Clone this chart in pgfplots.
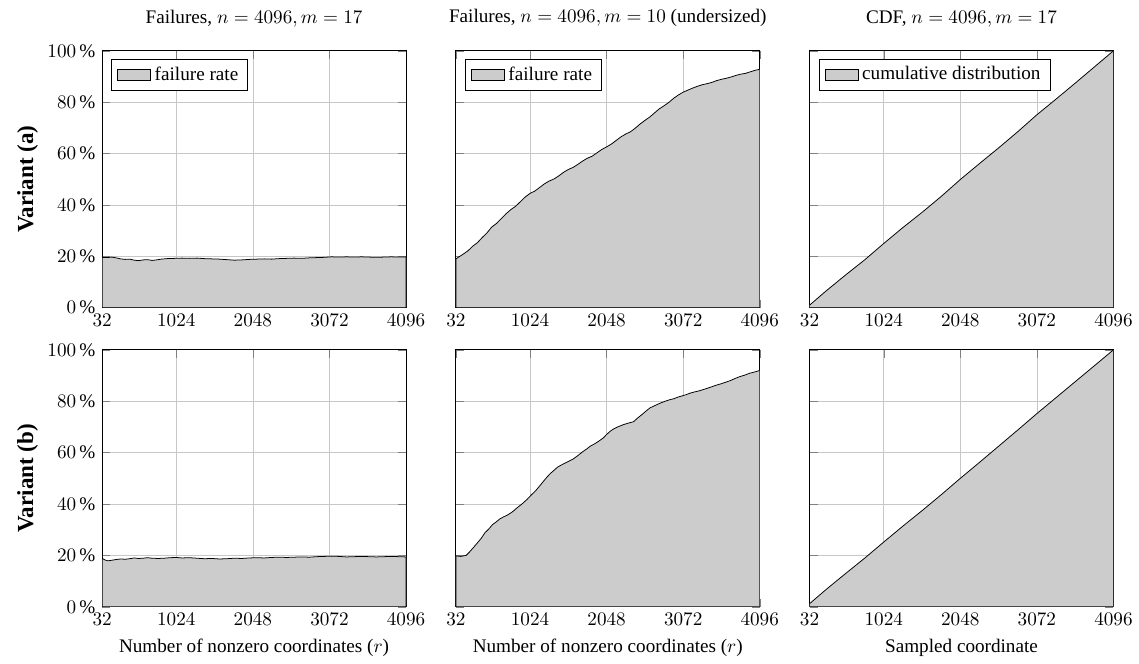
\documentclass[border=0pt]{standalone}
\usepackage{fontspec}
\setmainfont{Liberation Serif}
\usepackage{pgfplots}
\pgfplotsset{compat=1.18}
\usepgfplotslibrary{groupplots}

\pgfplotstableread{
r y
32 19.6
100 19.5
160 19.7
220 19.4
280 19.0
340 18.8
400 18.9
460 18.5
520 18.3
580 18.6
640 18.7
700 18.4
760 18.6
820 18.9
900 19.1
1000 19.2
1100 19.3
1200 19.2
1300 19.3
1400 19.1
1500 19.0
1600 18.9
1700 18.7
1800 18.5
1900 18.6
2000 18.8
2100 18.9
2200 19.0
2300 18.9
2400 19.1
2500 19.2
2600 19.3
2700 19.2
2800 19.4
2900 19.5
3000 19.6
3100 19.8
3200 19.7
3300 19.8
3400 19.7
3500 19.8
3600 19.7
3700 19.6
3800 19.7
3900 19.8
4000 19.7
4096 19.7
}\dataAone

\pgfplotstableread{
r y
32 19.0
80 19.9
128 20.8
192 22.1
256 23.9
320 25.3
384 27.3
448 29.1
512 31.4
576 32.8
640 34.7
704 36.6
768 38.2
832 39.5
896 41.3
960 43.1
1024 44.5
1088 45.4
1152 46.8
1216 48.2
1280 49.3
1344 50.1
1408 51.3
1472 52.7
1536 53.8
1600 54.6
1664 55.8
1728 57.1
1792 58.2
1856 59.0
1920 60.3
1984 61.6
2048 62.6
2112 63.7
2176 65.1
2240 66.5
2304 67.6
2368 68.5
2432 69.9
2496 71.5
2560 72.9
2624 74.2
2688 75.8
2752 77.4
2816 78.6
2880 79.9
2944 81.5
3008 82.8
3072 83.9
3136 84.7
3200 85.5
3264 86.2
3328 86.8
3392 87.2
3456 87.7
3520 88.4
3584 88.9
3648 89.3
3712 89.8
3776 90.4
3840 90.9
3904 91.2
3968 91.8
4032 92.4
4096 92.8
}\dataAtwo

\pgfplotstableread{
r y
32 1.0
256 6.6
512 12.7
768 18.6
1024 25.0
1280 31.2
1536 37.1
1792 43.3
2048 49.9
2304 56.1
2560 62.2
2816 68.5
3072 75.1
3328 81.2
3584 87.4
3840 93.7
4096 100
}\dataAthree

\pgfplotstableread{
r y
32 18.9
70 18.2
110 17.9
160 18.1
220 18.4
280 18.6
340 18.5
400 18.7
460 19.0
520 18.8
580 18.9
640 19.1
700 18.9
780 18.8
860 18.9
940 19.1
1024 19.2
1100 19.0
1200 19.1
1300 18.9
1400 18.7
1500 18.8
1600 18.6
1700 18.7
1800 18.9
1900 18.8
2000 19.0
2100 19.1
2200 19.0
2300 19.2
2400 19.3
2500 19.2
2600 19.3
2700 19.4
2800 19.3
2900 19.5
3000 19.6
3100 19.7
3200 19.6
3300 19.4
3400 19.5
3500 19.6
3600 19.5
3700 19.4
3800 19.5
3900 19.6
4000 19.5
4096 19.4
}\dataBone

\pgfplotstableread{
r y
32 19.8
100 19.6
169 20.0
220 21.5
280 23.5
324 25.0
370 26.6
420 28.8
470 30.2
523 32.0
570 33.0
620 34.2
670 35.0
722 35.7
790 37.0
850 38.5
920 40.1
988 41.9
1040 43.5
1100 45.2
1180 48.0
1254 50.6
1300 52.0
1340 53.0
1390 54.3
1431 55.0
1490 55.9
1540 56.6
1600 57.5
1652 58.6
1700 59.7
1740 60.6
1790 61.6
1829 62.5
1880 63.3
1920 64.0
1960 64.8
2007 65.8
2050 67.1
2095 68.3
2140 69.2
2180 69.8
2230 70.4
2273 70.9
2340 71.5
2406 72.0
2460 73.4
2520 74.8
2580 76.3
2627 77.4
2700 78.4
2760 79.2
2830 80.0
2893 80.6
2950 81.0
3000 81.6
3060 82.1
3115 82.6
3170 83.2
3220 83.6
3280 84.0
3336 84.5
3390 85.0
3450 85.6
3520 86.3
3580 86.8
3640 87.4
3700 88.0
3770 88.9
3830 89.6
3900 90.2
3960 90.9
4030 91.4
4096 92.0
}\dataBtwo

\pgfplotstableread{
r y
32 1.2
256 6.8
512 12.9
768 18.9
1024 25.2
1280 31.4
1536 37.4
1792 43.6
2048 50.0
2304 56.2
2560 62.5
2816 68.8
3072 75.2
3328 81.4
3584 87.6
3840 93.8
4096 100
}\dataBthree

\begin{document}
\begin{tikzpicture}
\begin{groupplot}[
  group style={group size=3 by 2, horizontal sep=26pt, vertical sep=22pt,
    yticklabels at=edge left},
  scale only axis, width=158.5pt, height=134pt,
  xmin=32, xmax=4096, ymin=0, ymax=100,
  xtick={32,1024,2048,3072,4096},
  xticklabels={$32$,$1024$,$2048$,$3072$,$4096$},
  ytick={0,20,40,60,80,100},
  yticklabel={$\pgfmathprintnumber{\tick}\,\%$},
  grid=major,
  major grid style={black!22},
  title style={yshift=3pt},
  ylabel style={yshift=-2pt},
  legend pos=north west,
  legend style={legend cell align=left, draw=black},
]
\nextgroupplot[title={\rule{0pt}{8.5pt}Failures, $n = 4096, m = 17$},
  ylabel={\textbf{\large\rule{0pt}{14pt}Variant (a)}}]
\addplot[draw=black, fill=black!20, area legend] table[x=r,y=y] {\dataAone} \closedcycle;
\addlegendentry{failure rate}
\nextgroupplot[title={\rule{0pt}{8.5pt}Failures, $n = 4096, m = 10$ (undersized)}]
\addplot[draw=black, fill=black!20, area legend] table[x=r,y=y] {\dataAtwo} \closedcycle;
\addlegendentry{failure rate}
\nextgroupplot[title={\rule{0pt}{8.5pt}CDF, $n = 4096, m = 17$}]
\addplot[draw=black, fill=black!20, area legend] table[x=r,y=y] {\dataAthree} \closedcycle;
\addlegendentry{cumulative distribution}
\nextgroupplot[xlabel={Number of nonzero coordinates ($r$)},
  ylabel={\textbf{\large\rule{0pt}{14pt}Variant (b)}}]
\addplot[draw=black, fill=black!20] table[x=r,y=y] {\dataBone} \closedcycle;
\nextgroupplot[xlabel={Number of nonzero coordinates ($r$)}]
\addplot[draw=black, fill=black!20] table[x=r,y=y] {\dataBtwo} \closedcycle;
\nextgroupplot[xlabel={Sampled coordinate}]
\addplot[draw=black, fill=black!20] table[x=r,y=y] {\dataBthree} \closedcycle;
\end{groupplot}
\end{tikzpicture}
\end{document}
